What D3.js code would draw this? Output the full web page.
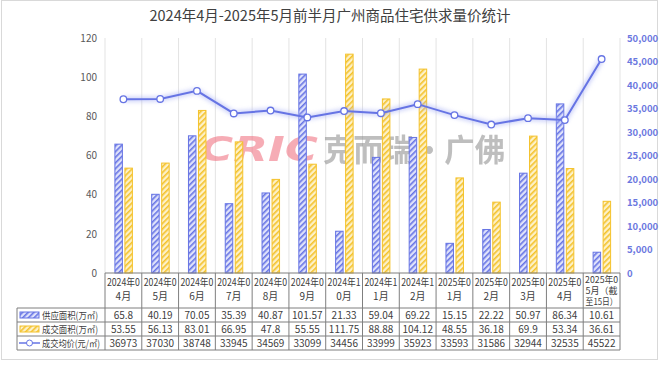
<!DOCTYPE html>
<html><head><meta charset="utf-8">
<script src="https://cdn.jsdelivr.net/npm/d3@7"></script>
<style>body{margin:0;background:#fff;font-family:"Noto Sans CJK SC",sans-serif;}</style>
</head><body><svg id="c" width="660" height="367"></svg>
<script>
const catLines = [["2024年0","4月"],["2024年0","5月"],["2024年0","6月"],["2024年0","7月"],["2024年0","8月"],["2024年0","9月"],["2024年1","0月"],["2024年1","1月"],["2024年1","2月"],["2025年0","1月"],["2025年0","2月"],["2025年0","3月"],["2025年0","4月"],["2025年0","5月（截","至15日）"]];
const supply = [65.8,40.19,70.05,35.39,40.87,101.57,21.33,59.04,69.22,15.15,22.22,50.97,86.34,10.61];
const deal = [53.55,56.13,83.01,66.95,47.8,55.55,111.75,88.88,104.12,48.55,36.18,69.9,53.34,36.61];
const price = [36973,37030,38748,33945,34569,33099,34456,33999,35923,33593,31586,32944,32535,45522];
const leftTicks = [0,20,40,60,80,100,120];
const rightTicks = [0,5000,10000,15000,20000,25000,30000,35000,40000,45000,50000];
const seriesNames = ["供应面积(万㎡)","成交面积(万㎡)","成交均价(元/㎡)"];
const title = "2024年4月-2025年5月前半月广州商品住宅供求量价统计";

const FONT = "Noto Sans CJK SC, sans-serif";
const svg = d3.select("#c").attr("font-family",FONT);
const L=105, R=620, T=38, B=273;
const idx = d3.range(catLines.length);
const x = d3.scaleBand().domain(idx).range([L,R]);
const yL = d3.scaleLinear().domain([0,120]).range([B,T]);
const yR = d3.scaleLinear().domain([0,50000]).range([B,T]);
const blue="#6674e4", yel="#f4c22b", txt="#404040";

const defs = svg.append("defs");
function pat(id, bg, fg){
  const p = defs.append("pattern").attr("id",id).attr("patternUnits","userSpaceOnUse")
    .attr("width",4).attr("height",4).attr("patternTransform","rotate(45)");
  p.append("rect").attr("width",4).attr("height",4).attr("fill",bg);
  p.append("rect").attr("width",1.6).attr("height",4).attr("fill",fg);
}
pat("pb","#dfe2fb",blue); pat("py","#fdf1c8",yel);
const f = defs.append("filter").attr("id","glow").attr("x","-10%").attr("y","-50%").attr("width","120%").attr("height","200%");
f.append("feGaussianBlur").attr("stdDeviation",2);

svg.append("rect").attr("x",1.5).attr("y",0.5).attr("width",656).attr("height",359).attr("fill","none").attr("stroke","#d9d9d9");

svg.append("text").attr("x",330).attr("y",21).attr("text-anchor","middle").attr("font-size",14.5).attr("fill",txt).text(title);

svg.append("g").selectAll("line").data(d3.range(catLines.length+1)).join("line")
  .attr("x1",i=>L+i*x.step()).attr("x2",i=>L+i*x.step()).attr("y1",T).attr("y2",B)
  .attr("stroke","#e3e3e3");

const gl = svg.append("g").attr("transform",`translate(${L-6},0)`).call(d3.axisLeft(yL).tickValues(leftTicks).tickSize(0).tickPadding(2));
gl.select(".domain").remove();
gl.selectAll("text").attr("font-size",10).attr("fill","#595959").attr("font-family",FONT);
const gr = svg.append("g").attr("transform",`translate(${R+4},0)`).call(d3.axisRight(yR).tickValues(rightTicks).tickSize(0).tickPadding(3));
gr.select(".domain").remove();
gr.selectAll("text").attr("font-size",9.5).attr("font-weight","bold").attr("fill","#6b78e0").attr("font-family",FONT);

const wm = svg.append("g").attr("opacity",0.55);
wm.append("text").attr("x",200).attr("y",161).attr("font-size",34).attr("font-weight","900").attr("font-style","italic")
  .attr("fill","#f06a7a").attr("font-family","DejaVu Sans, sans-serif").attr("textLength",118).attr("lengthAdjust","spacingAndGlyphs").text("CRIC");
wm.append("text").attr("x",323).attr("y",161).attr("font-size",31).attr("fill","#8a8a8a").attr("font-weight","bold")
  .attr("textLength",182).attr("lengthAdjust","spacingAndGlyphs").text("克而瑞·广佛");

const bw=7.5;
svg.append("g").selectAll("rect").data(supply).join("rect")
  .attr("x",(d,i)=>x(i)+x.step()/2-bw-1).attr("y",d=>yL(d)).attr("width",bw).attr("height",d=>B-yL(d))
  .attr("fill","url(#pb)").attr("stroke",blue).attr("stroke-width",1);
svg.append("g").selectAll("rect").data(deal).join("rect")
  .attr("x",(d,i)=>x(i)+x.step()/2+1.5).attr("y",d=>yL(d)).attr("width",bw).attr("height",d=>B-yL(d))
  .attr("fill","url(#py)").attr("stroke",yel).attr("stroke-width",1);

const line = d3.line().x((d,i)=>x(i)+x.step()/2).y(d=>yR(d));
svg.append("path").datum(price).attr("d",line).attr("fill","none").attr("stroke","#aab3f5").attr("stroke-width",5).attr("opacity",0.6).attr("filter","url(#glow)");
svg.append("path").datum(price).attr("d",line).attr("fill","none").attr("stroke",blue).attr("stroke-width",2);
svg.append("g").selectAll("circle").data(price).join("circle")
  .attr("cx",(d,i)=>x(i)+x.step()/2).attr("cy",d=>yR(d)).attr("r",3.3).attr("fill","#fff").attr("stroke",blue).attr("stroke-width",1.3);

const tb = svg.append("g");
const rowY=[308,322,336,350];
const tl=17, stroke="#7f7f7f";
tb.append("line").attr("x1",L).attr("x2",R).attr("y1",B).attr("y2",B).attr("stroke",stroke);
rowY.forEach(y=>tb.append("line").attr("x1",tl).attr("x2",R).attr("y1",y).attr("y2",y).attr("stroke",stroke));
d3.range(catLines.length+1).forEach(i=>{
  tb.append("line").attr("x1",L+i*x.step()).attr("x2",L+i*x.step()).attr("y1",B).attr("y2",350).attr("stroke",stroke);
});
tb.append("line").attr("x1",tl).attr("x2",tl).attr("y1",308).attr("y2",350).attr("stroke",stroke);
catLines.forEach((lines,i)=>{
  const cx=x(i)+x.step()/2;
  const n=lines.length;
  const startY = n===2 ? 286 : 282.5;
  const t = tb.append("text").attr("text-anchor","middle").attr("font-size",n===2?10:9).attr("fill",txt);
  lines.forEach((s,j)=>{
    const ts = t.append("tspan").attr("x",cx).attr("y",startY+j*(n===2?14:11.2)).text(s);
    ts.attr("textLength",j===0?33:32).attr("lengthAdjust","spacingAndGlyphs");
    if(n===2 && j===1) ts.attr("textLength",null).attr("lengthAdjust",null);
  });
});
[supply,deal,price].forEach((arr,r)=>{
  arr.forEach((v,i)=>{
    tb.append("text").attr("x",x(i)+x.step()/2).attr("y",rowY[r]+10.5).attr("text-anchor","middle")
      .attr("font-size",10).attr("fill",txt).text(v);
  });
  tb.append("text").attr("x",42).attr("y",rowY[r]+10.5).attr("font-size",9.5).attr("fill",txt)
    .attr("textLength",r===2?58:56).attr("lengthAdjust","spacingAndGlyphs").text(seriesNames[r]);
});
tb.append("rect").attr("x",20).attr("y",312).attr("width",19).attr("height",6).attr("fill","url(#pb)").attr("stroke",blue);
tb.append("rect").attr("x",20).attr("y",326).attr("width",19).attr("height",6).attr("fill","url(#py)").attr("stroke",yel);
tb.append("line").attr("x1",19).attr("x2",40).attr("y1",343).attr("y2",343).attr("stroke",blue).attr("stroke-width",1.5);
tb.append("circle").attr("cx",29.5).attr("cy",343).attr("r",3).attr("fill","#fff").attr("stroke",blue);
</script></body></html>
